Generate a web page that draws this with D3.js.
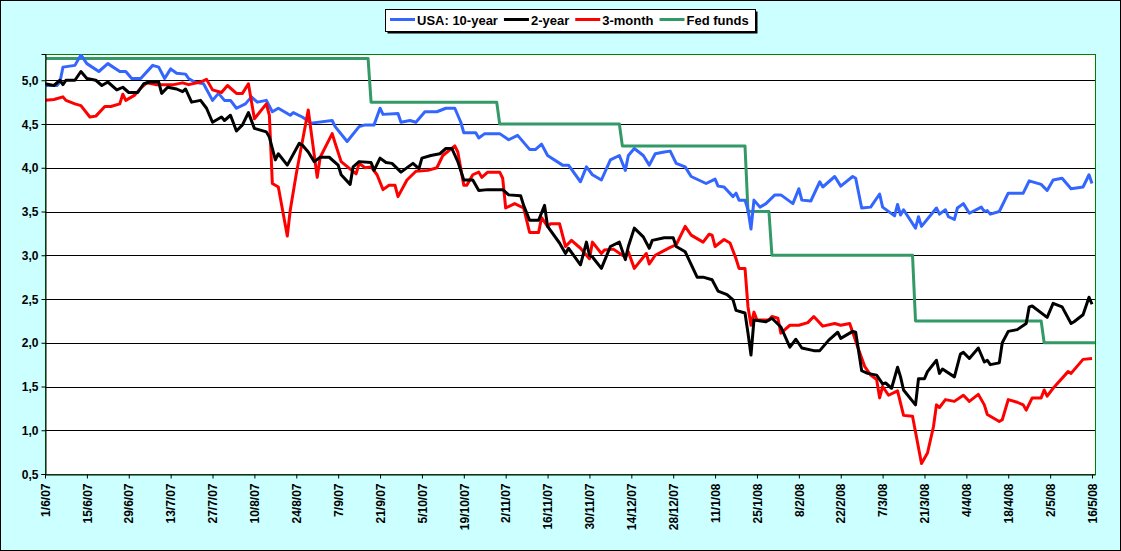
<!DOCTYPE html>
<html>
<head>
<meta charset="utf-8">
<script src="https://cdnjs.cloudflare.com/ajax/libs/d3/7.8.5/d3.min.js"></script>
<style>
  body { margin: 0; padding: 0; background: #fff; }
  text { font-family: "Liberation Sans", Arial, sans-serif; font-weight: bold; }
</style>
</head>
<body>
<div id="chart"></div>
<script>
// tick labels along the date axis (every two weeks)
var tickLabels = ["1/6/07","15/6/07","29/6/07","13/7/07","27/7/07","10/8/07","24/8/07","7/9/07",
  "21/9/07","5/10/07","19/10/07","2/11/07","16/11/07","30/11/07","14/12/07","28/12/07","11/1/08",
  "25/1/08","8/2/08","22/2/08","7/3/08","21/3/08","4/4/08","18/4/08","2/5/08","16/5/08"];
var yTicks = [0.5, 1.0, 1.5, 2.0, 2.5, 3.0, 3.5, 4.0, 4.5, 5.0];

var seriesNames = ["USA: 10-year", "2-year", "3-month", "Fed funds"];
var seriesColors = ["#3366FF", "#000000", "#FF0000", "#339966"];

var tenYear = [
  ["1/6/07",4.94],["5/6/07",4.94],["6/6/07",4.98],["7/6/07",5.15],["11/6/07",5.17],["13/6/07",5.29],
  ["15/6/07",5.19],["19/6/07",5.10],["22/6/07",5.19],["26/6/07",5.10],["28/6/07",5.10],["30/6/07",5.02],
  ["3/7/07",5.02],["7/7/07",5.17],["9/7/07",5.15],["11/7/07",5.02],["13/7/07",5.13],["15/7/07",5.08],
  ["18/7/07",5.07],["19/7/07",5.02],["21/7/07",4.98],["24/7/07",4.96],["27/7/07",4.77],["29/7/07",4.85],
  ["31/7/07",4.77],["2/8/07",4.77],["4/8/07",4.68],["7/8/07",4.73],["9/8/07",4.81],["11/8/07",4.75],
  ["14/8/07",4.77],["16/8/07",4.64],["18/8/07",4.68],["22/8/07",4.60],["23/8/07",4.63],["26/8/07",4.58],
  ["29/8/07",4.51],["5/9/07",4.54],["6/9/07",4.47],["10/9/07",4.30],["14/9/07",4.47],["16/9/07",4.49],
  ["19/9/07",4.49],["21/9/07",4.68],["22/9/07",4.61],["27/9/07",4.62],["28/9/07",4.52],["1/10/07",4.54],
  ["3/10/07",4.52],["4/10/07",4.56],["6/10/07",4.64],["10/10/07",4.64],["13/10/07",4.68],["16/10/07",4.68],
  ["18/10/07",4.52],["19/10/07",4.40],["23/10/07",4.40],["24/10/07",4.34],["26/10/07",4.39],["31/10/07",4.39],
  ["3/11/07",4.32],["6/11/07",4.37],["10/11/07",4.21],["12/11/07",4.21],["14/11/07",4.27],["16/11/07",4.14],
  ["21/11/07",4.03],["23/11/07",4.03],["27/11/07",3.84],["29/11/07",4.01],["1/12/07",3.92],["4/12/07",3.86],
  ["7/12/07",4.09],["10/12/07",4.14],["12/12/07",3.97],["13/12/07",4.14],["15/12/07",4.22],["18/12/07",4.14],
  ["20/12/07",4.03],["22/12/07",4.16],["25/12/07",4.18],["27/12/07",4.19],["29/12/07",4.05],["1/1/08",4.01],
  ["3/1/08",3.90],["8/1/08",3.82],["11/1/08",3.87],["12/1/08",3.79],["14/1/08",3.78],["17/1/08",3.67],
  ["18/1/08",3.71],["19/1/08",3.63],["21/1/08",3.63],["22/1/08",3.52],["23/1/08",3.30],["24/1/08",3.63],
  ["26/1/08",3.55],["28/1/08",3.59],["31/1/08",3.69],["2/2/08",3.69],["6/2/08",3.59],["8/2/08",3.76],
  ["9/2/08",3.63],["12/2/08",3.62],["15/2/08",3.84],["16/2/08",3.78],["20/2/08",3.90],["22/2/08",3.79],
  ["26/2/08",3.90],["27/2/08",3.88],["29/2/08",3.54],["3/3/08",3.55],["6/3/08",3.70],["7/3/08",3.55],
  ["11/3/08",3.45],["12/3/08",3.58],["13/3/08",3.46],["14/3/08",3.52],["18/3/08",3.31],["19/3/08",3.44],
  ["20/3/08",3.33],["25/3/08",3.54],["26/3/08",3.47],["28/3/08",3.52],["29/3/08",3.44],["31/3/08",3.41],
  ["1/4/08",3.54],["3/4/08",3.59],["5/4/08",3.48],["9/4/08",3.55],["10/4/08",3.50],["11/4/08",3.51],
  ["12/4/08",3.47],["15/4/08",3.50],["18/4/08",3.71],["23/4/08",3.71],["25/4/08",3.85],["29/4/08",3.81],
  ["1/5/08",3.74],["3/5/08",3.86],["6/5/08",3.88],["9/5/08",3.76],["13/5/08",3.78],["15/5/08",3.92],
  ["16/5/08",3.82]
];

var twoYear = [
  ["1/6/07",4.96],["4/6/07",4.94],["6/6/07",5.00],["7/6/07",4.95],["8/6/07",5.00],["11/6/07",5.00],
  ["13/6/07",5.10],["15/6/07",5.02],["18/6/07",5.00],["20/6/07",4.94],["22/6/07",4.98],["25/6/07",4.89],
  ["27/6/07",4.92],["29/6/07",4.86],["2/7/07",4.86],["4/7/07",4.96],["6/7/07",4.98],["9/7/07",4.98],
  ["10/7/07",4.85],["12/7/07",4.92],["15/7/07",4.90],["17/7/07",4.87],["18/7/07",4.90],["20/7/07",4.75],
  ["23/7/07",4.77],["25/7/07",4.68],["27/7/07",4.52],["30/7/07",4.58],["31/7/07",4.54],["2/8/07",4.60],
  ["4/8/07",4.42],["6/8/07",4.49],["8/8/07",4.63],["10/8/07",4.45],["12/8/07",4.43],["14/8/07",4.41],
  ["15/8/07",4.35],["17/8/07",4.09],["18/8/07",4.16],["21/8/07",4.03],["25/8/07",4.28],["26/8/07",4.26],
  ["28/8/07",4.18],["30/8/07",4.07],["1/9/07",4.12],["4/9/07",4.12],["7/9/07",4.03],["8/9/07",3.92],
  ["11/9/07",3.81],["12/9/07",4.01],["14/9/07",4.07],["18/9/07",4.06],["19/9/07",3.97],["21/9/07",4.11],
  ["23/9/07",4.06],["25/9/07",4.05],["28/9/07",3.95],["2/10/07",4.05],["4/10/07",3.99],["5/10/07",4.11],
  ["8/10/07",4.14],["11/10/07",4.16],["13/10/07",4.22],["15/10/07",4.22],["17/10/07",4.07],["19/10/07",3.86],
  ["22/10/07",3.86],["24/10/07",3.74],["27/10/07",3.75],["1/11/07",3.75],["3/11/07",3.69],["7/11/07",3.68],
  ["8/11/07",3.57],["10/11/07",3.40],["13/11/07",3.40],["15/11/07",3.57],["16/11/07",3.33],["20/11/07",3.14],
  ["22/11/07",3.02],["23/11/07",3.08],["27/11/07",2.89],["29/11/07",3.15],["30/11/07",3.00],["1/12/07",2.98],
  ["4/12/07",2.85],["7/12/07",3.10],["10/12/07",3.15],["12/12/07",2.95],["13/12/07",3.10],["15/12/07",3.31],
  ["18/12/07",3.21],["20/12/07",3.08],["21/12/07",3.17],["25/12/07",3.20],["28/12/07",3.20],["29/12/07",3.10],
  ["1/1/08",3.04],["5/1/08",2.75],["7/1/08",2.75],["10/1/08",2.72],["12/1/08",2.59],["15/1/08",2.55],
  ["17/1/08",2.49],["18/1/08",2.37],["21/1/08",2.34],["22/1/08",2.11],["23/1/08",1.86],["24/1/08",2.26],
  ["28/1/08",2.24],["30/1/08",2.28],["2/2/08",2.18],["5/2/08",1.95],["7/2/08",2.04],["9/2/08",1.94],
  ["13/2/08",1.91],["15/2/08",1.91],["18/2/08",2.03],["21/2/08",2.12],["22/2/08",2.05],["26/2/08",2.13],
  ["27/2/08",2.12],["29/2/08",1.68],["2/3/08",1.65],["5/3/08",1.63],["7/3/08",1.53],["8/3/08",1.54],
  ["10/3/08",1.48],["12/3/08",1.72],["13/3/08",1.61],["14/3/08",1.46],["18/3/08",1.29],["19/3/08",1.59],
  ["21/3/08",1.59],["22/3/08",1.67],["25/3/08",1.80],["26/3/08",1.65],["27/3/08",1.70],["31/3/08",1.61],
  ["2/4/08",1.87],["3/4/08",1.89],["5/4/08",1.82],["8/4/08",1.94],["10/4/08",1.78],["11/4/08",1.80],
  ["12/4/08",1.75],["15/4/08",1.77],["16/4/08",2.00],["18/4/08",2.13],["21/4/08",2.15],["24/4/08",2.22],
  ["25/4/08",2.41],["26/4/08",2.42],["1/5/08",2.29],["3/5/08",2.45],["6/5/08",2.41],["9/5/08",2.22],
  ["10/5/08",2.24],["13/5/08",2.32],["15/5/08",2.52],["16/5/08",2.44]
];

var threeMonth = [
  ["1/6/07",4.77],["4/6/07",4.78],["7/6/07",4.81],["8/6/07",4.77],["11/6/07",4.73],["13/6/07",4.71],
  ["16/6/07",4.58],["18/6/07",4.59],["21/6/07",4.70],["23/6/07",4.70],["26/6/07",4.73],["27/6/07",4.84],
  ["28/6/07",4.77],["1/7/07",4.83],["3/7/07",4.91],["5/7/07",4.97],["8/7/07",4.95],["14/7/07",4.95],
  ["17/7/07",4.97],["19/7/07",4.95],["23/7/07",4.98],["25/7/07",5.01],["27/7/07",4.89],["30/7/07",4.86],
  ["1/8/07",4.94],["4/8/07",4.85],["6/8/07",4.85],["8/8/07",4.96],["10/8/07",4.56],["14/8/07",4.73],
  ["15/8/07",4.60],["16/8/07",3.82],["18/8/07",3.78],["21/8/07",3.22],["22/8/07",3.52],["24/8/07",3.93],
  ["28/8/07",4.66],["31/8/07",3.89],["1/9/07",4.12],["5/9/07",4.39],["6/9/07",4.28],["8/9/07",4.07],
  ["13/9/07",3.93],["14/9/07",4.05],["16/9/07",4.00],["18/9/07",4.01],["20/9/07",3.92],["22/9/07",3.75],
  ["24/9/07",3.80],["26/9/07",3.80],["27/9/07",3.67],["30/9/07",3.86],["3/10/07",3.96],["7/10/07",3.97],
  ["10/10/07",4.00],["12/10/07",4.14],["16/10/07",4.25],["17/10/07",4.18],["19/10/07",3.80],["20/10/07",3.80],
  ["22/10/07",3.92],["24/10/07",3.95],["25/10/07",3.89],["27/10/07",3.95],["31/10/07",3.95],["1/11/07",3.88],
  ["2/11/07",3.54],["5/11/07",3.59],["8/11/07",3.54],["10/11/07",3.26],["13/11/07",3.26],["14/11/07",3.43],
  ["16/11/07",3.33],["17/11/07",3.36],["20/11/07",3.36],["22/11/07",3.10],["24/11/07",3.17],["27/11/07",3.08],
  ["30/11/07",2.96],["1/12/07",3.15],["4/12/07",3.02],["5/12/07",3.06],["8/12/07",3.07],["11/12/07",3.00],
  ["12/12/07",2.98],["13/12/07",3.04],["15/12/07",2.85],["19/12/07",3.02],["20/12/07",2.90],["22/12/07",3.00],
  ["27/12/07",3.09],["29/12/07",3.12],["1/1/08",3.33],["3/1/08",3.23],["7/1/08",3.15],["9/1/08",3.24],
  ["10/1/08",3.23],["11/1/08",3.10],["14/1/08",3.18],["16/1/08",3.14],["18/1/08",2.96],["19/1/08",2.85],
  ["21/1/08",2.85],["22/1/08",2.41],["23/1/08",2.20],["24/1/08",2.35],["25/1/08",2.26],["29/1/08",2.26],
  ["30/1/08",2.30],["1/2/08",2.28],["2/2/08",2.11],["5/2/08",2.20],["8/2/08",2.20],["11/2/08",2.23],
  ["13/2/08",2.30],["16/2/08",2.19],["20/2/08",2.22],["22/2/08",2.20],["25/2/08",2.22],["28/2/08",1.92],
  ["1/3/08",1.73],["3/3/08",1.63],["5/3/08",1.58],["6/3/08",1.37],["7/3/08",1.50],["9/3/08",1.40],
  ["12/3/08",1.45],["14/3/08",1.17],["17/3/08",1.16],["20/3/08",0.62],["22/3/08",0.74],["24/3/08",1.04],
  ["25/3/08",1.29],["26/3/08",1.26],["28/3/08",1.35],["31/3/08",1.33],["3/4/08",1.40],["5/4/08",1.33],
  ["8/4/08",1.41],["10/4/08",1.29],["11/4/08",1.18],["15/4/08",1.10],["16/4/08",1.12],["18/4/08",1.35],
  ["21/4/08",1.32],["23/4/08",1.29],["24/4/08",1.23],["26/4/08",1.37],["29/4/08",1.37],["30/4/08",1.46],
  ["1/5/08",1.39],["3/5/08",1.48],["8/5/08",1.67],["9/5/08",1.65],["13/5/08",1.81],["16/5/08",1.82]
];

var fedFunds = [
  ["1/6/07",5.25],["17/9/07",5.25],["18/9/07",4.75],["30/10/07",4.75],["31/10/07",4.50],
  ["10/12/07",4.50],["11/12/07",4.25],["21/1/08",4.25],["22/1/08",3.50],["29/1/08",3.50],
  ["30/1/08",3.00],["17/3/08",3.00],["18/3/08",2.25],["29/4/08",2.25],["30/4/08",2.00],["17/5/08",2.00]
];

var W = 1121, H = 551;
var plot = {left: 45, top: 54, right: 1095, bottom: 474};

var parseDate = d3.timeParse("%d/%m/%y");
var formatDate = d3.timeFormat("%-d/%-m/%y");
var commaFormat = d3.formatLocale({decimal: ",", thousands: ".", grouping: [3], currency: ["", ""]}).format(".1f");

var svg = d3.select("#chart").append("svg")
    .attr("width", W)
    .attr("height", H);

// chart background
svg.append("rect")
    .attr("x", 0.5).attr("y", 0.5)
    .attr("width", W - 1).attr("height", H - 1)
    .attr("fill", "#CCFFFF")
    .attr("stroke", "#000");

var x = d3.scaleTime()
    .domain([parseDate("1/6/07"), parseDate("17/5/08")])
    .range([plot.left, plot.right]);

var y = d3.scaleLinear()
    .domain([0.5, 5.3])
    .range([plot.bottom, plot.top]);

// plot area
svg.append("rect")
    .attr("x", plot.left + 0.5).attr("y", plot.top + 0.5)
    .attr("width", plot.right - plot.left).attr("height", plot.bottom - plot.top)
    .attr("fill", "#fff")
    .attr("stroke", "#008000");

// gridlines
svg.append("g")
    .selectAll("line")
    .data(yTicks.filter(d => d > 0.5))
    .enter().append("line")
    .attr("x1", plot.left)
    .attr("x2", plot.right)
    .attr("y1", d => Math.round(y(d)) + 0.5)
    .attr("y2", d => Math.round(y(d)) + 0.5)
    .attr("stroke", "#000")
    .attr("stroke-width", 1);

svg.append("clipPath").attr("id", "clip")
  .append("rect")
    .attr("x", plot.left).attr("y", plot.top)
    .attr("width", plot.right - plot.left + 1).attr("height", plot.bottom - plot.top);

var line = d3.line()
    .x(d => x(parseDate(d[0])))
    .y(d => y(d[1]));

var allSeries = [tenYear, twoYear, threeMonth, fedFunds];

svg.append("g")
    .attr("clip-path", "url(#clip)")
    .selectAll("path")
    .data([3, 0, 2, 1])
    .enter().append("path")
    .attr("d", i => line(allSeries[i]))
    .attr("fill", "none")
    .attr("stroke", i => seriesColors[i])
    .attr("stroke-width", 3)
    .attr("stroke-linejoin", "round");

// y axis
var yAxis = d3.axisLeft(y)
    .tickValues(yTicks)
    .tickFormat(d => commaFormat(d))
    .tickSize(4)
    .tickPadding(3);

svg.append("g")
    .attr("transform", "translate(" + (plot.left + 0.5) + ",0)")
    .call(yAxis)
    .call(g => g.selectAll("text").attr("font-size", 12).attr("fill", "#000").attr("dy", "0.35em"))
    .call(g => g.selectAll("line, path").attr("stroke", "#000"));

// x axis
var xAxis = d3.axisBottom(x)
    .tickValues(tickLabels.map(parseDate))
    .tickFormat(formatDate)
    .tickSize(4)
    .tickSizeOuter(0);

svg.append("g")
    .attr("transform", "translate(0," + (plot.bottom + 0.5) + ")")
    .call(xAxis)
    .call(g => g.selectAll("line, path").attr("stroke", "#000"))
    .call(g => g.selectAll("text")
        .attr("font-size", 12)
        .attr("fill", "#000")
        .attr("text-anchor", "end")
        .attr("transform", "rotate(-90)")
        .attr("x", -9)
        .attr("y", 0)
        .attr("dy", "0.35em"));

// legend
var legend = svg.append("g").attr("transform", "translate(385,9)");
legend.append("rect")
    .attr("x", 2.5).attr("y", 2.5)
    .attr("width", 370).attr("height", 22)
    .attr("fill", "#000");
legend.append("rect")
    .attr("x", 0.5).attr("y", 0.5)
    .attr("width", 370).attr("height", 22)
    .attr("fill", "#fff")
    .attr("stroke", "#000");

var lx = 5;
seriesNames.forEach(function(name, i) {
  legend.append("line")
      .attr("x1", lx).attr("x2", lx + 25)
      .attr("y1", 10.5).attr("y2", 10.5)
      .attr("stroke", seriesColors[i])
      .attr("stroke-width", 3);
  var t = legend.append("text")
      .attr("x", lx + 27)
      .attr("y", 15.5)
      .attr("font-size", 13)
      .attr("fill", "#000")
      .text(name);
  lx = lx + 27 + t.node().getComputedTextLength() + 6;
});
</script>
</body>
</html>
